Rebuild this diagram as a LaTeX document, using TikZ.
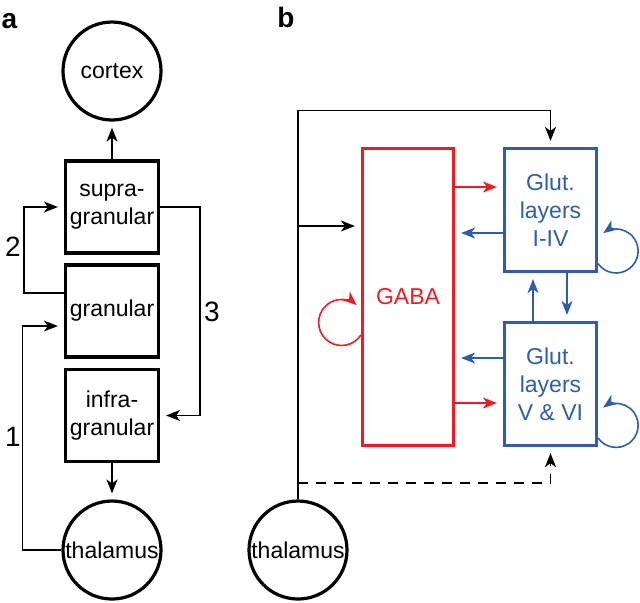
\documentclass[tikz,border=0pt]{standalone}
\usepackage{fontspec}
\setmainfont{Liberation Sans}
\usetikzlibrary{arrows.meta}
\definecolor{gabared}{RGB}{237,28,36}
\definecolor{glutblue}{RGB}{47,93,168}

\begin{document}
\begin{tikzpicture}[x=0.5pt,y=0.5pt,
    area/.style={draw,line width=1.6pt,inner sep=0pt,align=center,font=\fontsize{11.5}{14}\selectfont},
    layer/.style={area,minimum width=46.5pt,minimum height=46pt},
    region/.style={area,circle,minimum size=49pt},
    panel/.style={font=\fontsize{14}{14}\selectfont\bfseries},
    pathno/.style={font=\fontsize{14}{14}\selectfont},
    tip/.style={-{Stealth[length=7pt,width=5.5pt,inset=2pt]},line width=0.8pt},
    arr/.style={tip,shorten >=3pt}]
    \useasboundingbox (0,0) rectangle (640,-602);

    % panel a
    \node[panel] (pa) at (9.5,-21) {a};
    \node[region] (cortex) at (112,-71) {cortex};
    \node[layer] (supra) at (112,-207) {supra-\\granular};
    \node[layer] (gran) at (112,-311) {granular};
    \node[layer] (infra) at (112,-415.5) {infra-\\granular};
    \node[region] (thalA) at (112,-550) {thalamus};
    \node[pathno] (n1) at (13,-437) {1};
    \node[pathno] (n2) at (13,-247) {2};
    \node[pathno] (n3) at (212,-312) {3};
    \draw[arr] (supra) -- (cortex);
    \draw[arr] (infra) -- (thalA);
    \draw[arr] ([yshift=9pt]gran.west) -- ++(-40,0) |- (supra.west);
    \draw[arr] (thalA.west) -- ++(-39,0) |- ([yshift=-7.5pt]gran.west);
    \draw[arr] (supra.east) -- ++(40,0) |- (infra.east);

    % panel b
    \node[panel] (pb) at (286,-17) {b};
    \node[area,gabared,minimum width=45.5pt,minimum height=148.5pt] (gaba) at (408,-297) {GABA};
    \node[area,glutblue,minimum width=46pt,minimum height=61.5pt] (glut1) at (550.5,-210) {Glut.\\layers\\I-IV};
    \node[area,glutblue,minimum width=46pt,minimum height=61.5pt] (glut2) at (550.5,-384) {Glut.\\layers\\V \& VI};
    \node[region] (thalB) at (298,-550) {thalamus};
    \draw[arr] (thalB.north) -- ++(0,389) -| (glut1.north);
    \draw[arr] (thalB.north |- 0,-226) -- (gaba.west |- 0,-226);
    \draw[arr,dashed,dash pattern=on 5pt off 4pt] (thalB.north |- 0,-483) -| (glut2.south);
    \draw[arr,gabared] (gaba.east |- 0,-187) -- (glut1.west |- 0,-187);
    \draw[arr,gabared] (gaba.east |- 0,-403) -- (glut2.west |- 0,-403);
    \draw[arr,glutblue] (glut1.west |- 0,-233) -- (gaba.east |- 0,-233);
    \draw[arr,glutblue] (glut2.west |- 0,-358) -- (gaba.east |- 0,-358);
    \draw[arr,glutblue] (glut2.north -| 533,0) -- (glut1.south -| 533,0);
    \draw[arr,glutblue] (glut1.south -| 567,0) -- (glut2.north -| 567,0);
    \draw[tip,glutblue] ([yshift=-26.8pt]glut1.east) arc[start angle=215,end angle=486,radius=22];
    \draw[tip,glutblue] ([yshift=-27pt]glut2.east) arc[start angle=215,end angle=486,radius=22];
    \draw[tip,gabared] ([yshift=-19pt]gaba.west) arc[start angle=-33,end angle=-311,radius=23];
\end{tikzpicture}
\end{document}
